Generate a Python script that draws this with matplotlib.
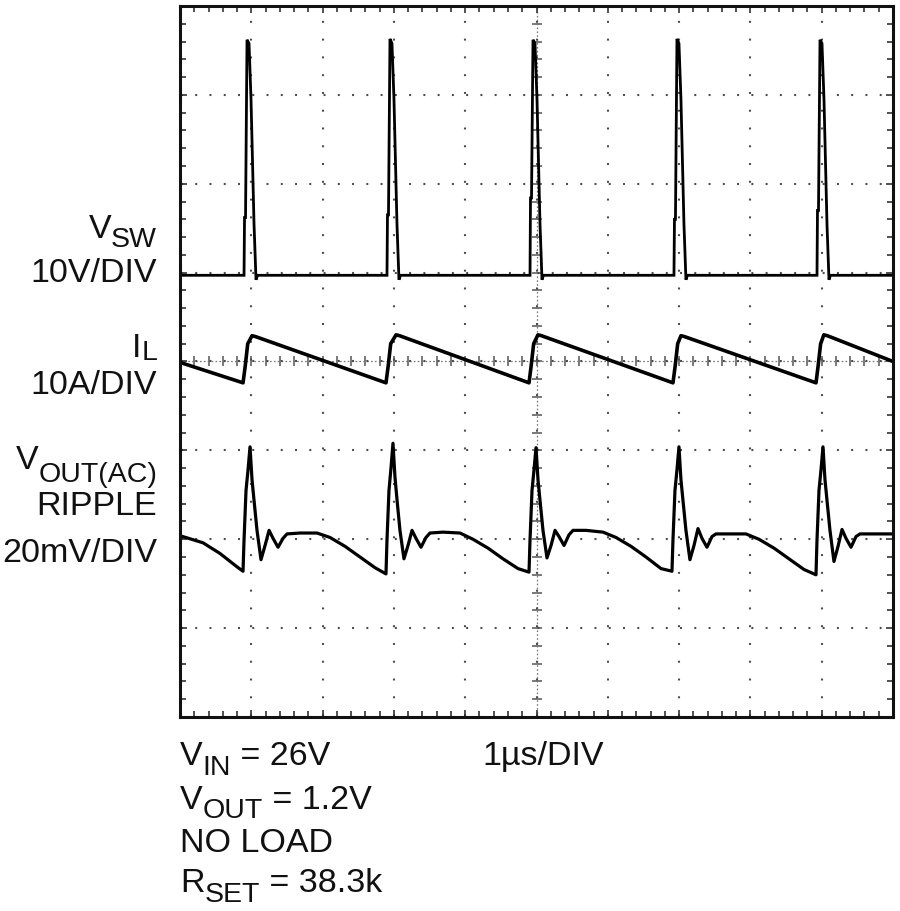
import numpy as np
import matplotlib
matplotlib.use("Agg")
import matplotlib.pyplot as plt
from matplotlib.ticker import MultipleLocator

plt.rcParams['font.family'] = ['Liberation Sans', 'DejaVu Sans']
plt.rcParams['lines.scale_dashes'] = False

# time in us (1us/DIV), values in divisions (0 = bottom of screen)
vsw_t = [0.0,
         0.898, 0.905, 0.919, 0.940, 0.968, 0.996, 1.038, 1.066, 1.087,
         2.903, 2.910, 2.924, 2.945, 2.973, 3.001, 3.043, 3.071, 3.092,
         4.909, 4.916, 4.930, 4.951, 4.979, 5.007, 5.049, 5.077, 5.098,
         6.928, 6.935, 6.949, 6.970, 6.998, 7.026, 7.068, 7.096, 7.117,
         8.934, 8.941, 8.955, 8.976, 9.004, 9.032, 9.074, 9.102, 9.123,
         10.0]
vsw_v = [4.97,
         4.97, 5.62, 5.62, 7.62, 7.58, 6.95, 5.55, 4.92, 4.97,
         4.97, 5.65, 5.65, 7.63, 7.58, 6.95, 5.55, 4.92, 4.97,
         4.97, 5.84, 5.84, 7.62, 7.58, 6.95, 5.55, 4.92, 4.97,
         4.97, 5.60, 5.60, 7.63, 7.58, 6.95, 5.55, 4.92, 4.97,
         4.97, 5.70, 5.70, 7.62, 7.58, 6.95, 5.55, 4.92, 4.97,
         4.97]

il_t = [0.0, 0.884, 0.915, 0.950, 1.010, 1.060,
        2.889, 2.920, 2.955, 3.030, 3.080,
        4.895, 4.925, 4.960, 5.020, 5.070,
        6.914, 6.945, 6.980, 7.026, 7.076,
        8.920, 8.950, 8.985, 9.030, 9.080,
        10.0]
il_v = [3.99, 3.76, 3.95, 4.20, 4.29, 4.28,
        3.76, 3.95, 4.20, 4.30, 4.29,
        3.76, 3.95, 4.20, 4.30, 4.29,
        3.76, 3.95, 4.20, 4.29, 4.28,
        3.76, 3.95, 4.20, 4.30, 4.29,
        4.00]

vout_t = [0.0, 0.323, 0.561, 0.799, 0.884,
          0.898, 0.926, 0.954, 0.982, 1.010, 1.038, 1.080, 1.136, 1.193, 1.249,
          1.305, 1.375, 1.445, 1.501, 1.683, 1.922, 2.104, 2.315, 2.525, 2.735, 2.889,
          2.903, 2.931, 2.959, 2.987, 3.015, 3.043, 3.085, 3.141, 3.198, 3.254,
          3.310, 3.380, 3.450, 3.506, 3.688, 3.927, 4.109, 4.320, 4.530, 4.740, 4.895,
          4.909, 4.937, 4.965, 4.993, 5.021, 5.049, 5.091, 5.147, 5.204, 5.260,
          5.316, 5.386, 5.456, 5.512, 5.694, 5.933, 6.115, 6.326, 6.536, 6.746, 6.900,
          6.914, 6.942, 6.970, 6.998, 7.026, 7.054, 7.096, 7.152, 7.209, 7.265,
          7.321, 7.391, 7.461, 7.517, 7.699, 7.938, 8.120, 8.331, 8.541, 8.751, 8.920,
          8.934, 8.962, 8.990, 9.018, 9.046, 9.074, 9.116, 9.172, 9.229, 9.285,
          9.341, 9.411, 9.481, 9.537, 9.719, 10.0]
vout_v = [2.04, 1.96, 1.84, 1.69, 1.64,
          1.99, 2.55, 2.78, 3.04, 2.67, 2.44, 2.10, 1.77, 1.93, 2.10,
          2.01, 1.91, 2.01, 2.06, 2.07, 2.07, 2.02, 1.92, 1.80, 1.68, 1.61,
          1.99, 2.55, 2.80, 3.08, 2.70, 2.45, 2.10, 1.78, 1.93, 2.10,
          2.01, 1.91, 2.02, 2.07, 2.08, 2.07, 2.00, 1.90, 1.78, 1.67, 1.63,
          1.99, 2.55, 2.78, 3.03, 2.67, 2.44, 2.10, 1.79, 1.93, 2.10,
          2.03, 1.93, 2.05, 2.10, 2.10, 2.08, 2.02, 1.92, 1.80, 1.67, 1.64,
          1.99, 2.55, 2.78, 3.04, 2.67, 2.44, 2.10, 1.77, 1.93, 2.12,
          2.01, 1.91, 2.03, 2.06, 2.06, 2.06, 2.00, 1.90, 1.78, 1.66, 1.60,
          1.99, 2.55, 2.78, 3.04, 2.67, 2.44, 2.10, 1.75, 1.92, 2.11,
          2.01, 1.91, 2.03, 2.06, 2.06, 2.06]

# label parts: (text, subscript drop in px or None for normal text)
left_labels = [[('V', None), ('SW', 9)], [('10V/DIV', None)],
               [('I', None), ('L', 3)], [('10A/DIV', None)],
               [('V', None), ('OUT(AC)', 13)], [('RIPPLE', None)], [('20mV/DIV', None)]]
left_label_y = [238, 282, 357, 394, 469, 515, 562]   # baseline, px from top
notes = [[('V', None), ('IN', 10), (' = 26V', None)],
         [('V', None), ('OUT', 9), (' = 1.2V', None)],
         [('NO LOAD', None)],
         [('R', None), ('SET', 10), (' = 38.3k', None)]]
notes_y = [765, 809, 852, 892]

W, H = 900, 911
FS, FS_SUB = 24.5, 20.5
fig = plt.figure(figsize=(W / 100, H / 100), dpi=100)
ax = fig.add_axes([180 / W, 1 - 717 / H, 713 / W, 711 / H])
ax.set_xlim(0, 10)
ax.set_ylim(0, 8)

# dotted scope graticule
ax.xaxis.set_major_locator(MultipleLocator(1))
ax.yaxis.set_major_locator(MultipleLocator(1))
ax.xaxis.set_minor_locator(MultipleLocator(0.2))
ax.yaxis.set_minor_locator(MultipleLocator(0.2))
py_per = 711 / 8 / 5 * 0.72   # vertical dot period, pt
px_per = 713 / 10 / 5 * 0.72  # horizontal dot period, pt
on = 1.4
ax.grid(axis='x', which='major', color='#4a4a4a', lw=1.5,
        linestyle=(py_per - on / 2, (on, py_per - on)))
ax.grid(axis='y', which='major', color='#4a4a4a', lw=1.5,
        linestyle=(px_per - on / 2, (on, px_per - on)))
ax.axvline(5, color='#777777', lw=0.9, linestyle=(0, (1.2, 1.6)), zorder=1)
ax.axhline(4, color='#777777', lw=0.9, linestyle=(0, (1.2, 1.6)), zorder=1)

ax.tick_params(which='both', direction='in', top=True, right=True,
               labelbottom=False, labelleft=False, color='#333333')
ax.tick_params(which='major', length=5, width=1.2)
ax.tick_params(which='minor', length=4, width=1.2)

cx = ax.secondary_xaxis(0.5)
cx.xaxis.set_major_locator(MultipleLocator(0.2))
cx.tick_params(direction='inout', length=7, width=1.1, color='#555555',
               labelbottom=False, labeltop=False)
cy = ax.secondary_yaxis(0.5)
cy.yaxis.set_major_locator(MultipleLocator(0.2))
cy.tick_params(direction='inout', length=7, width=1.1, color='#555555',
               labelleft=False, labelright=False)
for sec in (cx, cy):
    for sp in sec.spines.values():
        sp.set_visible(False)

for sp in ax.spines.values():
    sp.set_linewidth(2.2)
    sp.set_color('#111111')

ax.plot(vsw_t, vsw_v, color='black', lw=2.0, solid_joinstyle='miter')
ax.plot(il_t, il_v, color='black', lw=2.6)
ax.plot(vout_t, vout_v, color='black', lw=2.3)

renderer = fig.canvas.get_renderer()


def put_label(parts, x_px, y_px, align):
    arts = []
    for txt, drop in parts:
        t = fig.text(0, 0, txt, fontsize=FS if drop is None else FS_SUB,
                     ha='left', va='baseline', color='#111111')
        w = t.get_window_extent(renderer).width
        arts.append((t, w, drop or 0))
    total = sum(w for _, w, _ in arts)
    x = x_px - total if align == 'right' else x_px
    for t, w, drop in arts:
        t.set_position((x / W, 1 - (y_px + drop) / H))
        x += w


for parts, yy in zip(left_labels, left_label_y):
    put_label(parts, 157, yy, 'right')
for parts, yy in zip(notes, notes_y):
    put_label(parts, 180, yy, 'left')
put_label([('1µs/DIV', None)], 482, 765, 'left')

fig.savefig('out.png', dpi=100)
